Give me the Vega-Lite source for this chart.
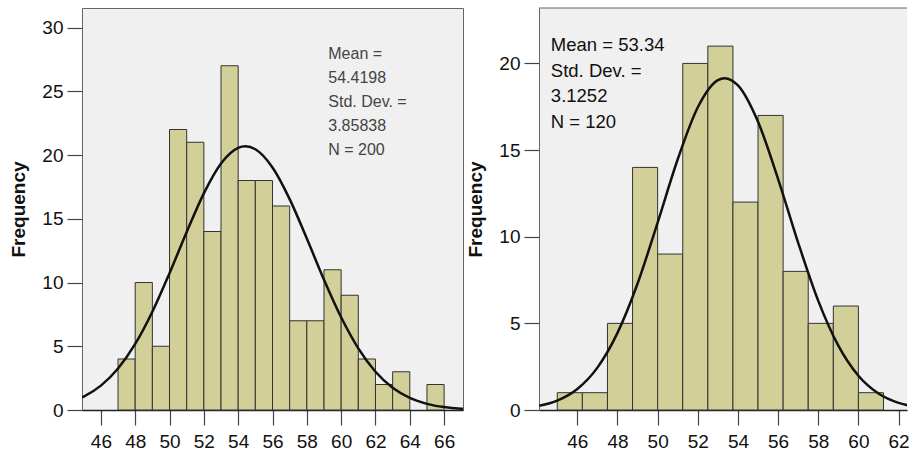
{
  "$schema": "https://vega.github.io/schema/vega-lite/v6.json",
  "padding": {"left": 9, "top": 7, "right": 0, "bottom": 0},
  "spacing": 2,
  "datasets": {
    "leftBins": [
      {"lo": 47, "hi": 48, "count": 4}, {"lo": 48, "hi": 49, "count": 10}, {"lo": 49, "hi": 50, "count": 5},
      {"lo": 50, "hi": 51, "count": 22}, {"lo": 51, "hi": 52, "count": 21}, {"lo": 52, "hi": 53, "count": 14},
      {"lo": 53, "hi": 54, "count": 27}, {"lo": 54, "hi": 55, "count": 18}, {"lo": 55, "hi": 56, "count": 18},
      {"lo": 56, "hi": 57, "count": 16}, {"lo": 57, "hi": 58, "count": 7}, {"lo": 58, "hi": 59, "count": 7},
      {"lo": 59, "hi": 60, "count": 11}, {"lo": 60, "hi": 61, "count": 9}, {"lo": 61, "hi": 62, "count": 4},
      {"lo": 62, "hi": 63, "count": 2}, {"lo": 63, "hi": 64, "count": 3}, {"lo": 65, "hi": 66, "count": 2}
    ],
    "leftCurve": [
      {"x": 44.9, "y": 0.985}, {"x": 45, "y": 1.051}, {"x": 46, "y": 1.913}, {"x": 47, "y": 3.256},
      {"x": 48, "y": 5.18}, {"x": 49, "y": 7.71}, {"x": 50, "y": 10.73}, {"x": 51, "y": 13.96},
      {"x": 52, "y": 16.99}, {"x": 53, "y": 19.33}, {"x": 54, "y": 20.56}, {"x": 54.42, "y": 20.68},
      {"x": 55, "y": 20.45}, {"x": 56, "y": 19.02}, {"x": 57, "y": 16.54}, {"x": 58, "y": 13.45},
      {"x": 59, "y": 10.22}, {"x": 60, "y": 7.27}, {"x": 61, "y": 4.83}, {"x": 62, "y": 3.0},
      {"x": 63, "y": 1.745}, {"x": 64, "y": 0.949}, {"x": 65, "y": 0.482}, {"x": 66, "y": 0.229},
      {"x": 67, "y": 0.1016}, {"x": 67.1, "y": 0.0934}
    ],
    "rightBins": [
      {"lo": 45, "hi": 46.25, "count": 1}, {"lo": 46.25, "hi": 47.5, "count": 1}, {"lo": 47.5, "hi": 48.75, "count": 5},
      {"lo": 48.75, "hi": 50, "count": 14}, {"lo": 50, "hi": 51.25, "count": 9}, {"lo": 51.25, "hi": 52.5, "count": 20},
      {"lo": 52.5, "hi": 53.75, "count": 21}, {"lo": 53.75, "hi": 55, "count": 12}, {"lo": 55, "hi": 56.25, "count": 17},
      {"lo": 56.25, "hi": 57.5, "count": 8}, {"lo": 57.5, "hi": 58.75, "count": 5}, {"lo": 58.75, "hi": 60, "count": 6},
      {"lo": 60, "hi": 61.25, "count": 1}
    ],
    "rightCurve": [
      {"x": 44.1, "y": 0.242}, {"x": 45, "y": 0.544}, {"x": 46, "y": 1.214}, {"x": 47, "y": 2.445},
      {"x": 48, "y": 4.449}, {"x": 49, "y": 7.3}, {"x": 50, "y": 10.82}, {"x": 51, "y": 14.47},
      {"x": 52, "y": 17.47}, {"x": 53, "y": 19.04}, {"x": 53.34, "y": 19.15}, {"x": 54, "y": 18.73},
      {"x": 55, "y": 16.63}, {"x": 56, "y": 13.33}, {"x": 57, "y": 9.65}, {"x": 58, "y": 6.3},
      {"x": 59, "y": 3.715}, {"x": 60, "y": 1.977}, {"x": 61, "y": 0.95}, {"x": 62, "y": 0.412},
      {"x": 62.6, "y": 0.237}
    ]
  },
  "hconcat": [
    {
      "width": 381,
      "height": 402,
      "encoding": {
        "x": {"type": "quantitative", "scale": {"domain": [44.9, 67.1], "nice": false, "zero": false},
              "axis": {"values": [46, 48, 50, 52, 54, 56, 58, 60, 62, 64, 66], "title": null, "labelOverlap": false}},
        "y": {"type": "quantitative", "scale": {"domain": [0, 31.53], "nice": false},
              "axis": {"values": [0, 5, 10, 15, 20, 25, 30], "title": "Frequency"}}
      },
      "layer": [
        {
          "data": {"name": "leftBins"},
          "mark": {"type": "rect", "fill": "#d3cf98", "stroke": "#333", "strokeWidth": 1},
          "encoding": {
            "x": {"field": "lo", "type": "quantitative"},
            "x2": {"field": "hi"},
            "y": {"field": "count", "type": "quantitative"},
            "y2": {"datum": 0}
          }
        },
        {
          "data": {"name": "leftCurve"},
          "mark": {"type": "line", "color": "#111", "strokeWidth": 2.5, "interpolate": "monotone", "clip": true},
          "encoding": {
            "x": {"field": "x", "type": "quantitative"},
            "y": {"field": "y", "type": "quantitative"}
          }
        },
        {
          "data": {"values": [{}]},
          "mark": {"type": "text", "align": "left", "baseline": "alphabetic", "fontSize": 16, "color": "#444", "lineHeight": 24,
                   "text": ["Mean =", "54.4198", "Std. Dev. =", "3.85838", "N = 200"]},
          "encoding": {
            "x": {"datum": 59.25, "type": "quantitative"},
            "y": {"datum": 27.53, "type": "quantitative"}
          }
        }
      ]
    },
    {
      "width": 368,
      "height": 402,
      "view": {"stroke": null, "fill": "#f0f0f0"},
      "encoding": {
        "x": {"type": "quantitative", "scale": {"domain": [44.09, 62.42], "nice": false, "zero": false},
              "axis": {"values": [46, 48, 50, 52, 54, 56, 58, 60, 62], "title": null, "labelOverlap": false}},
        "y": {"type": "quantitative", "scale": {"domain": [0, 23.2], "nice": false},
              "axis": {"values": [0, 5, 10, 15, 20], "title": "Frequency", "domain": true, "domainColor": "#666"}}
      },
      "layer": [
        {
          "data": {"name": "rightBins"},
          "mark": {"type": "rect", "fill": "#d3cf98", "stroke": "#333", "strokeWidth": 1},
          "encoding": {
            "x": {"field": "lo", "type": "quantitative"},
            "x2": {"field": "hi"},
            "y": {"field": "count", "type": "quantitative"},
            "y2": {"datum": 0}
          }
        },
        {
          "data": {"name": "rightCurve"},
          "mark": {"type": "line", "color": "#111", "strokeWidth": 2.5, "interpolate": "monotone", "clip": true},
          "encoding": {
            "x": {"field": "x", "type": "quantitative"},
            "y": {"field": "y", "type": "quantitative"}
          }
        },
        {
          "data": {"values": [{}]},
          "mark": {"type": "rule", "color": "#666", "strokeWidth": 1},
          "encoding": {"y": {"datum": 23.2, "type": "quantitative"}}
        },
        {
          "data": {"values": [{}]},
          "mark": {"type": "text", "align": "left", "baseline": "alphabetic", "fontSize": 18.5, "color": "#111", "lineHeight": 25.5,
                   "text": ["Mean = 53.34", "Std. Dev. =", "3.1252", "N = 120"]},
          "encoding": {
            "x": {"datum": 44.68, "type": "quantitative"},
            "y": {"datum": 20.69, "type": "quantitative"}
          }
        }
      ]
    }
  ],
  "config": {
    "font": "Liberation Sans",
    "view": {"fill": "#f0f0f0", "stroke": "#666"},
    "axis": {
      "grid": false, "labelFont": "Liberation Sans", "labelFontSize": 19, "labelColor": "#111",
      "tickColor": "#444", "tickSize": 15, "tickWidth": 1.2, "domain": false,
      "titleFont": "Liberation Sans", "titleFontSize": 19, "titleFontWeight": "bold", "titleColor": "#111"
    },
    "axisX": {"domain": true, "domainColor": "#222", "domainWidth": 1.5, "labelPadding": 7},
    "axisY": {"labelPadding": 4, "titlePadding": 13}
  }
}
